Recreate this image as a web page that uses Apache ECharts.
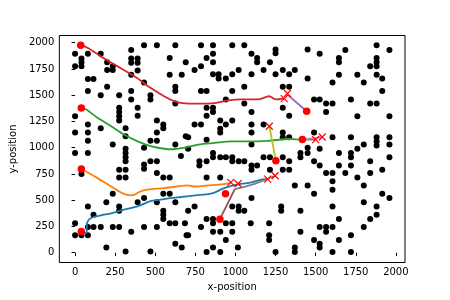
<!DOCTYPE html>
<html><head><meta charset="utf-8">
<script src="https://cdn.jsdelivr.net/npm/echarts@6/dist/echarts.min.js"></script>
<style>html,body{margin:0;padding:0;background:#fff}#c{width:450px;height:300px}</style>
</head><body><div id="c"></div>
<script>
// obstacle points (black dots)
const obsX = [0,80,160,40,40,40,0,350,430,510,625,350,350,390,390,200,590,690,200,235,235,390,350,590,665,80,115,430,200,625,625,80,350,160,275,470,470,350,625,275,275,275,275,390,390,0,510,550,550,80,160,315,0,80,510,80,315,470,510,235,625,690,430,
785,860,980,1055,860,1100,1250,1250,1450,820,1135,860,1135,1215,785,745,1020,1175,1295,1370,860,895,980,1100,1250,1335,895,940,1295,1335,785,820,980,1055,940,1055,820,860,1295,860,1100,820,1335,905,980,745,785,940,1100,1175,905,905,1100,1295,705,1295,1335,820,
1525,1685,1880,1960,1645,1645,1880,1880,1880,1840,1645,1760,1880,1450,1605,1800,1915,1915,1490,1525,1565,1605,1720,1840,1880,1565,1760,1960,1490,1605,1720,1880,1880,1880,1960,1960,1800,
0,80,315,315,315,315,275,315,275,315,430,430,470,510,510,550,590,660,40,235,195,80,275,275,115,390,430,510,550,590,625,550,550,550,590,625,0,0,40,80,80,115,160,235,275,350,430,510,685,695,195,315,470,625,665,
705,1100,775,820,775,860,860,905,940,980,980,1020,1055,1100,1100,1135,1175,1215,1215,1295,1335,1335,1405,1405,820,905,1295,1370,1450,705,745,980,1020,1020,1055,1100,1285,1285,1405,820,860,860,785,940,980,1095,1210,860,905,980,705,940,1210,1210,1405,820,860,905,1250,1370,1370,1015,
1450,1450,1525,1645,1720,1720,1760,1960,1490,1525,1645,1720,1840,1915,1565,1605,1685,1840,1760,1605,1605,1800,1490,1915,1960,1605,1800,1880,1880,1840,1645,1525,1565,1565,1605,1800,1490,1525,1525,1645,1720,1605,1720];
const obsY = [1895,1895,1895,1850,1815,1776,1776,1930,1975,1975,1975,1850,1810,1850,1810,1815,1855,1815,1740,1775,1740,1735,1695,1695,1695,1655,1655,1620,1580,1580,1540,1540,1540,1500,1500,1500,1460,1460,1420,1380,1340,1300,1260,1380,1305,1300,1260,1220,1185,1220,1185,1185,1145,1145,1145,1065,1110,1065,1065,1030,1030,1110,1000,
1975,1975,1975,1975,1895,1895,1935,1900,1935,1855,1855,1815,1815,1815,1775,1740,1740,1740,1740,1740,1700,1700,1700,1700,1700,1700,1660,1660,1580,1580,1540,1540,1540,1580,1460,1420,1380,1380,1380,1340,1340,1305,1305,1260,1260,1220,1220,1220,1220,1220,1180,1145,1145,1145,1100,1100,1100,1075,
1895,1930,1975,1930,1855,1815,1855,1815,1775,1775,1695,1695,1695,1660,1620,1620,1660,1540,1460,1460,1420,1420,1460,1420,1420,1340,1300,1300,1145,1100,1100,1100,1060,1020,1100,1030,1030,
950,950,990,950,910,870,790,790,715,715,840,800,870,870,760,715,715,920,750,560,480,440,440,400,360,480,520,480,560,560,480,400,360,320,280,280,280,165,165,165,245,245,245,245,245,200,245,245,280,165,50,10,10,85,50,
990,1030,870,870,830,950,910,910,910,910,870,870,870,830,790,830,910,910,790,910,870,790,950,910,715,715,790,640,640,400,440,440,440,400,400,520,440,400,400,320,320,280,245,280,280,280,280,200,200,200,165,120,165,120,200,5,50,5,5,50,5,50,
1000,950,990,950,950,910,990,910,870,830,830,830,870,790,760,760,760,760,715,680,600,640,560,560,520,440,480,440,360,320,320,245,245,200,245,245,120,85,50,120,165,5,5];

// agent paths
const redX = [35,80,160,265,370,470,555,615,670,770,870,955,1035,1140,1210,1250,1300];
const redY = [1977,1950,1870,1775,1680,1570,1490,1445,1425,1420,1425,1450,1460,1460,1490,1460,1468];
const greenX = [39,70,140,225,305,390,470,555,610,665,770,870,975,1080,1200,1345,1417,1500];
const greenY = [1379,1363,1285,1205,1125,1060,1015,990,985,995,1030,1045,1060,1060,1065,1083,1077,1077];
const orangeX = [39,60,140,225,305,358,400,450,555,635,700,750,830,900,971];
const orangeY = [797,780,710,630,560,545,578,600,615,630,640,630,640,648,663];
const blueX = [39,70,76,100,160,225,305,390,470,535,595,660,750,860,930,1015,1100,1180,1201];
const blueY = [201,185,290,330,355,375,410,440,490,505,520,530,545,568,615,650,670,700,701];
const grayX = [996,1060,1119,1180,1247];
const grayY = [605,630,656,690,733];
const brownX = [903,996];
const brownY = [319,605];
const oliveX = [1252,1211];
const oliveY = [876,1204];
const purpleX = [1444,1324];
const purpleY = [1347,1506];
const pinkX = [1417,1541];
const pinkY = [1077,1102];

// start points (red dots) and goals (red x)
const startX = [35,39,39,39,1444,1417,1252,938,903];
const startY = [1977,1379,797,201,1347,1077,876,561,319];
const goalX = [1304,1324,1211,1500,1541,971,1016,1201,1247];
const goalY = [1468,1516,1204,1077,1102,669,656,701,733];

const xTicks = [0,250,500,750,1000,1250,1500,1750,2000];
const yTicks = [0,250,500,750,1000,1250,1500,1750,2000];

const zip = (xs, ys) => xs.map((x, i) => [x, ys[i]]);
const F = 'DejaVu Sans';
const chart = echarts.init(document.getElementById('c'), null, {renderer: 'canvas'});

function path(xs, ys, color, smooth) {
  return {type: 'line', data: zip(xs, ys), showSymbol: false, symbol: 'none', smooth: smooth,
    lineStyle: {color: color, width: 1.8}, z: 3, silent: true};
}

const option = {
  animation: false,
  backgroundColor: '#fff',
  grid: {left: 56, right: 45, top: 35.5, bottom: 37.5, show: true, borderColor: '#000', borderWidth: 1},
  xAxis: {
    type: 'value', min: -98, max: 2057,
    axisLine: {show: false}, splitLine: {show: false},
    axisTick: {show: true, customValues: xTicks, length: 3.5, lineStyle: {color: '#000', width: 1}},
    axisLabel: {customValues: xTicks, formatter: v => String(v), color: '#000', fontFamily: F, fontSize: 10, margin: 5},
    name: 'x-position', nameLocation: 'middle', nameGap: 20,
    nameTextStyle: {color: '#000', fontFamily: F, fontSize: 10}
  },
  yAxis: {
    type: 'value', min: -94, max: 2069,
    axisLine: {show: false}, splitLine: {show: false},
    axisTick: {show: true, customValues: yTicks, length: 3.5, lineStyle: {color: '#000', width: 1}},
    axisLabel: {customValues: yTicks, formatter: v => String(v), color: '#000', fontFamily: F, fontSize: 10, margin: 5},
    name: 'y-position', nameLocation: 'middle', nameGap: 36,
    nameTextStyle: {color: '#000', fontFamily: F, fontSize: 10}
  },
  series: [
    {type: 'scatter', data: zip(obsX, obsY), symbolSize: 6, itemStyle: {color: '#000', opacity: 1}, z: 2, silent: true},
    path(blueX, blueY, '#1f77b4', 0.3),
    path(orangeX, orangeY, '#ff7f0e', 0.3),
    path(greenX, greenY, '#2ca02c', 0.3),
    path(redX, redY, '#d62728', 0.3),
    path(purpleX, purpleY, '#9467bd', false),
    path(brownX, brownY, '#8c564b', false),
    path(pinkX, pinkY, '#e377c2', false),
    path(grayX, grayY, '#7f7f7f', false),
    path(oliveX, oliveY, '#bcbd22', false),
    {type: 'scatter', data: zip(startX, startY), symbolSize: 7.5, itemStyle: {color: '#ff0000', opacity: 1}, z: 4, silent: true},
    {type: 'scatter', data: zip(goalX, goalY), symbol: 'path://M0,0L10,10M0,10L10,0', symbolSize: 7,
      itemStyle: {color: 'transparent', borderColor: '#ff0000', borderWidth: 1.2, opacity: 1}, z: 5, silent: true}
  ]
};
chart.setOption(option);
</script>
</body></html>
